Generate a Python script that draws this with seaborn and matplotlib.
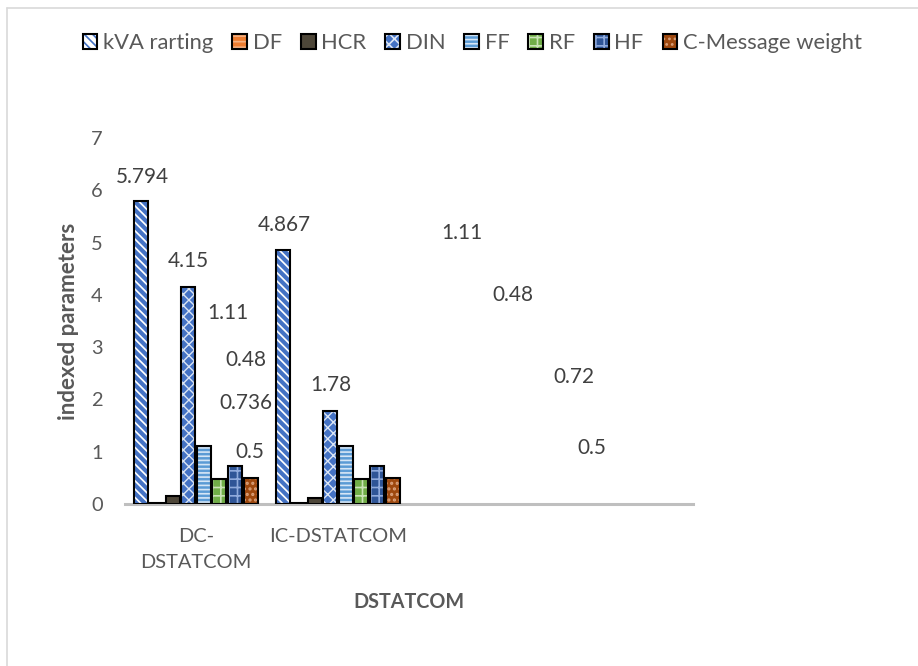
import matplotlib
matplotlib.use("Agg")
import matplotlib.pyplot as plt
import seaborn as sns
import pandas as pd
from matplotlib.patches import Patch, Rectangle
from matplotlib.lines import Line2D
from matplotlib.legend_handler import HandlerTuple

# ---- data -------------------------------------------------------------
categories = ["DC-\nDSTATCOM", "IC-DSTATCOM"]
series = ["kVA rarting", "DF", "HCR", "DIN", "FF", "RF", "HF", "C-Message weight"]

kva_rating = [5.794, 4.867]
df_vals = [0.02, 0.02]
hcr_vals = [0.15, 0.12]
din_vals = [4.15, 1.78]
ff_vals = [1.11, 1.11]
rf_vals = [0.48, 0.48]
hf_vals = [0.736, 0.72]
cmsg_vals = [0.5, 0.5]

y_ticks = [0, 1, 2, 3, 4, 5, 6, 7]

# value labels: (series, category index, x, y) anchor in data units
label_spots = [
    ("kVA rarting", 0, -0.380, 6.26),
    ("DIN", 0, -0.056, 4.64),
    ("FF", 0, 0.225, 3.66),
    ("RF", 0, 0.352, 2.76),
    ("HF", 0, 0.352, 1.93),
    ("C-Message weight", 0, 0.380, 1.00),
    ("kVA rarting", 1, 0.620, 5.34),
    ("DIN", 1, 0.951, 2.28),
    ("FF", 1, 1.873, 5.19),
    ("RF", 1, 2.232, 4.00),
    ("HF", 1, 2.662, 2.43),
    ("C-Message weight", 1, 2.789, 1.07),
]

# ---- styling ------------------------------------------------------------
sns.set_style("white")
plt.rcParams["font.family"] = ["Lato", "DejaVu Sans"]
plt.rcParams["hatch.linewidth"] = 1.2

# face colour, hatch pattern, hatch colour, hatch line width
styles = {
    "kVA rarting": ("#ffffff", "\\\\\\\\", "#4472C4", 3.0),
    "DF": ("#ED7D31", "---", "#F4B183", 1.0),
    "HCR": ("#4d4638", "", "#4d4638", 1.0),
    "DIN": ("#4472C4", "xxx", "#dce6f5", 1.0),
    "FF": ("#5B9BD5", "----", "#d6e6f6", 1.2),
    "RF": ("#70AD47", "++", "#c9e3b6", 1.2),
    "HF": ("#2F5597", "++", "#8faadc", 1.2),
    "C-Message weight": ("#9E480E", "...", "#d9a07a", 1.5),
}

columns = [kva_rating, df_vals, hcr_vals, din_vals, ff_vals, rf_vals, hf_vals, cmsg_vals]
rows = []
for name, vals in zip(series, columns):
    for cat, v in zip(categories, vals):
        rows.append({"category": cat, "series": name, "value": v})
data = pd.DataFrame(rows)
values = {name: vals for name, vals in zip(series, columns)}

W, H = 918, 666
fig = plt.figure(figsize=(W / 100, H / 100), dpi=100)
renderer = fig.canvas.get_renderer()


def size_for(text, width_px, weight="normal"):
    """Font size (pt) at which `text` is `width_px` pixels wide."""
    t = fig.text(0, 0, text, fontsize=10, fontweight=weight)
    w = t.get_window_extent(renderer).width
    t.remove()
    return 10 * width_px / w


tick_fs = size_for("IC-DSTATCOM", 137)
value_fs = size_for("5.794", 53)
legend_fs = size_for("C-Message weight", 179)
xlab_fs = size_for("DSTATCOM", 111, "bold")
ylab_fs = size_for("indexed parameters", 198, "bold")

ax = fig.add_axes([125 / W, (H - 504) / H, (693 - 125) / W, (504 - 138) / H])

sns.barplot(
    data=data, x="category", y="value", hue="series",
    order=categories, hue_order=series,
    palette=[styles[s][0] for s in series],
    width=0.88, gap=0.1, errorbar=None, legend=False,
    linewidth=0, ax=ax,
)

# hatch each bar in its own colour, then outline it in black
for name, cont in zip(series, ax.containers):
    face, hatch, hcol, hlw = styles[name]
    for bar in cont:
        bar.set_facecolor(face)
        bar.set_hatch(hatch)
        bar.set_edgecolor(hcol)
        bar.set_linewidth(0)
        if hasattr(bar, "set_hatch_linewidth"):
            bar.set_hatch_linewidth(hlw)
        ax.add_patch(Rectangle((bar.get_x(), bar.get_y()), bar.get_width(),
                               bar.get_height(), fill=False,
                               edgecolor="black", linewidth=1.5, zorder=3))

ax.set_xlim(-0.5, 3.5)
ax.set_ylim(0, 7)
ax.set_yticks(y_ticks)
ax.set_yticklabels([str(t) for t in y_ticks])
ax.tick_params(axis="y", length=0, pad=16, labelsize=tick_fs, labelcolor="#595959")
ax.tick_params(axis="x", length=0, pad=17.5, labelsize=tick_fs, labelcolor="#595959")
for lbl in ax.get_xticklabels():
    lbl.set_linespacing(1.6)

for side in ["top", "right", "left"]:
    ax.spines[side].set_visible(False)
ax.spines["bottom"].set_color("#bfbfbf")
ax.spines["bottom"].set_linewidth(2.2)
ax.grid(False)

ax.set_xlabel("DSTATCOM", fontsize=xlab_fs, fontweight="bold", color="#595959")
ax.xaxis.set_label_coords(0.5, -0.268)
ax.xaxis.label.set_va("center")
ax.set_ylabel("indexed parameters", fontsize=ylab_fs, fontweight="bold", color="#595959")
ax.yaxis.set_label_coords(-0.100, 0.5)
ax.yaxis.label.set_va("center")

for name, ci, x, y in label_spots:
    v = values[name][ci]
    ax.text(x, y, f"{v:g}", ha="center", va="center", fontsize=value_fs, color="#404040")

# legend: hatched swatch with a black outline on top
handles = []
for name in series:
    face, hatch, hcol, hlw = styles[name]
    swatch = Patch(facecolor=face, hatch=hatch, edgecolor=hcol, linewidth=0)
    outline = Patch(facecolor="none", edgecolor="black", linewidth=1.5)
    handles.append((swatch, outline))

legend_left, legend_right, legend_y = 103, 862, 43   # first text start, last text end
em_px = legend_fs * 100 / 72


def make_legend(colspace, x_anchor):
    return fig.legend(handles, series, loc="center left",
                      bbox_to_anchor=(x_anchor / W, 1 - legend_y / H),
                      ncol=len(series), frameon=False, fontsize=legend_fs,
                      handler_map={tuple: HandlerTuple(ndivide=1, pad=0)},
                      handlelength=0.68, handleheight=0.68, handletextpad=0.25,
                      columnspacing=colspace, labelcolor="#595959",
                      borderaxespad=0, borderpad=0)


colspace, x_anchor = 1.1, 84.0
for _ in range(3):
    leg = make_legend(colspace, x_anchor)
    fig.canvas.draw()
    texts = leg.get_texts()
    first = texts[0].get_window_extent(renderer).x0
    last = texts[-1].get_window_extent(renderer).x1
    span = last - first
    leg.remove()
    colspace += (legend_right - legend_left - span) / (len(series) - 1) / em_px
    x_anchor += legend_left - first
leg = make_legend(colspace, x_anchor)

# chart-area border
fig.add_artist(Line2D([7 / W, 1.0], [1 - 8 / H, 1 - 8 / H], transform=fig.transFigure,
                      color="#d9d9d9", linewidth=1.2))
fig.add_artist(Line2D([7 / W, 7 / W], [0.0, 1 - 8 / H], transform=fig.transFigure,
                      color="#d9d9d9", linewidth=1.2))

fig.savefig("out.png", dpi=100, facecolor="white")
